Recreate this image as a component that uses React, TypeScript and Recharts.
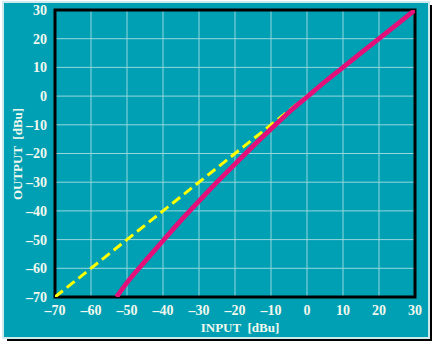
import React from 'react';
import { LineChart, Line, XAxis, YAxis, CartesianGrid, ReferenceArea } from 'recharts';

const axisTicks = [-70, -60, -50, -40, -30, -20, -10, 0, 10, 20, 30];
const expanderInput = [-52.9, -50, -45, -40, -35, -30, -25, -20, -15, -10, -5, 0, 5, 10, 20, 30];
const expanderOutput = [-70, -65.0, -57.6, -50.4, -43.3, -36.6, -30.0, -23.7, -17.5, -11.5, -5.6, -0.3, 5, 10, 20, 30];
const unityInput = [-70, 30];
const unityOutput = [-70, 30];

const expanderData = expanderInput.map((x, i) => ({ x, y: expanderOutput[i] }));
const unityData = unityInput.map((x, i) => ({ x, y: unityOutput[i] }));

const TEAL = '#00a0b4';
const TEXT = '#f2f8ee';
const FONT = '"Liberation Serif", "Times New Roman", serif';

const fmt = (v: number) => (v < 0 ? '\u2013' + Math.abs(v) : String(v));

const tickStyle = { fill: TEXT, fontFamily: FONT, fontWeight: 700, fontSize: 14 };

export default function App() {
  return (
    <div style={{ position: 'absolute', left: 0, top: 0, width: 433, height: 342, background: '#ffffff' }}>
      <div style={{ position: 'absolute', left: 7, top: 5, width: 425, height: 336, background: '#000' }} />
      <div
        style={{
          position: 'absolute',
          left: 2,
          top: 1,
          width: 428,
          height: 338,
          boxSizing: 'border-box',
          border: '2px solid #cdebee',
          background: TEAL,
        }}
      />
      <div style={{ position: 'absolute', left: 0, top: 0 }}>
        <LineChart width={433} height={342} margin={{ top: 10, right: 18, bottom: 15, left: 0 }}>
          <CartesianGrid stroke="#95d6dc" strokeWidth={1} fill={TEAL} />
          <XAxis
            type="number"
            dataKey="x"
            domain={[-70, 30]}
            ticks={axisTicks}
            tickFormatter={fmt}
            axisLine={false}
            tickLine={false}
            height={30}
            tick={tickStyle}
            allowDataOverflow
          />
          <YAxis
            type="number"
            dataKey="y"
            domain={[-70, 30]}
            ticks={axisTicks}
            tickFormatter={fmt}
            axisLine={false}
            tickLine={false}
            width={55}
            tick={tickStyle}
            allowDataOverflow
          />
          <Line
            data={unityData}
            dataKey="y"
            type="linear"
            stroke="#ffff00"
            strokeWidth={3}
            strokeDasharray="10 5"
            dot={false}
            isAnimationActive={false}
          />
          <Line
            data={expanderData}
            dataKey="y"
            type="monotone"
            stroke="#e4107a"
            strokeWidth={4.8}
            dot={false}
            isAnimationActive={false}
          />
          <ReferenceArea x1={-70} x2={30} y1={-70} y2={30} fill="none" fillOpacity={0} stroke="#000" strokeWidth={3} />
        </LineChart>
      </div>
      <svg width={433} height={342} style={{ position: 'absolute', left: 0, top: 0, pointerEvents: 'none' }}>
        <text
          x={240}
          y={332}
          textAnchor="middle"
          fill={TEXT}
          fontFamily={FONT}
          fontWeight={700}
          fontSize={13}
          style={{ whiteSpace: 'pre' }}
        >
          {'INPUT  [dBu]'}
        </text>
        <text
          x={22}
          y={154}
          textAnchor="middle"
          fill={TEXT}
          fontFamily={FONT}
          fontWeight={700}
          fontSize={13}
          transform="rotate(-90 22 154)"
          style={{ whiteSpace: 'pre' }}
        >
          {'OUTPUT  [dBu]'}
        </text>
      </svg>
    </div>
  );
}
